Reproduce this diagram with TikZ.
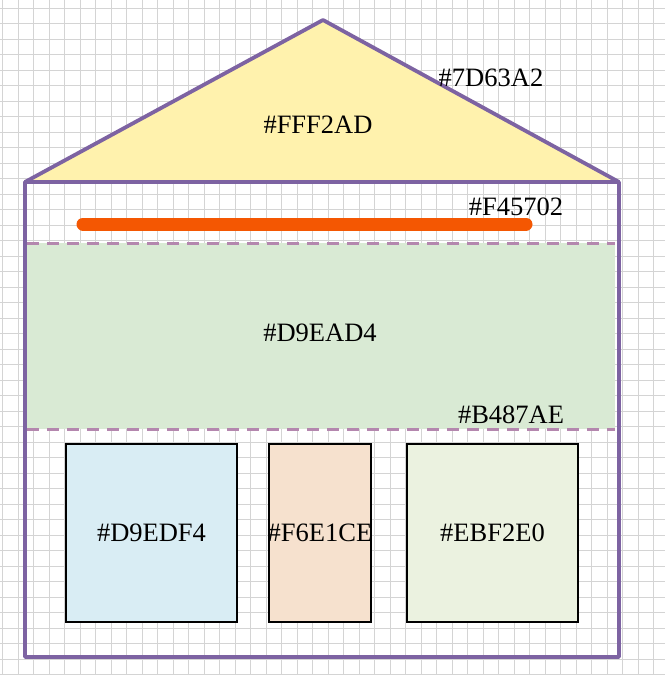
\documentclass[tikz,border=0pt]{standalone}
\usepackage{fontspec}
\setmainfont{Liberation Serif}
\begin{document}
\begin{tikzpicture}[x=1pt,y=-1pt,
  frame/.style={draw=c7D63A2,line width=3.8pt,line join=round},
  band/.style={draw=cB487AE,line width=3pt,dash pattern=on 12pt off 8pt},
  boxst/.style={draw=black,line width=1.5pt,minimum height=178pt,anchor=north west,inner sep=0pt,outer sep=0pt},
  lbl/.style={font=\fontsize{26.5}{28}\selectfont,inner sep=0pt}]
\definecolor{c7D63A2}{HTML}{7D63A2}
\definecolor{cFFF2AD}{HTML}{FFF2AD}
\definecolor{cF45702}{HTML}{F45702}
\definecolor{cD9EAD4}{HTML}{D9EAD4}
\definecolor{cB487AE}{HTML}{B487AE}
\definecolor{cD9EDF4}{HTML}{D9EDF4}
\definecolor{cF6E1CE}{HTML}{F6E1CE}
\definecolor{cEBF2E0}{HTML}{EBF2E0}
\definecolor{gridc}{HTML}{D4D4D4}
\useasboundingbox (0,0) rectangle (665,675);
\fill[white] (0,0) rectangle (665,675);
% grid
\foreach \i in {0,...,43} {\draw[gridc,line width=1pt] (2.7+\i*15.5,0) -- (2.7+\i*15.5,675);}
\foreach \j in {0,...,43} {\draw[gridc,line width=1pt] (0,8.3+\j*15.5) -- (665,8.3+\j*15.5);}
% roof
\coordinate (apex) at (323,20);
\coordinate (bl) at (25,182);
\coordinate (br) at (619,182);
\coordinate (fl) at (25,657);
\coordinate (fr) at (619,657);
\fill[cFFF2AD] (apex) -- (br) -- (bl) -- cycle;
% green band
\fill[cD9EAD4] (27,243) rectangle (615,429);
\coordinate (d1a) at (27,243); \coordinate (d1b) at (615,243);
\coordinate (d2a) at (27,429); \coordinate (d2b) at (615,429);
\draw[band] (d1a) -- (d1b);
\draw[band] (d2a) -- (d2b);
% orange bar
\coordinate (oa) at (83,224); \coordinate (ob) at (526,224);
\draw[cF45702,line width=13pt,line cap=round] (oa) -- (ob);
% frame
\draw[frame] (bl) -- (apex) -- (br);
\draw[frame] (bl) -- (br) -- (fr) -- (fl) -- cycle;
% boxes
\node[boxst,fill=cD9EDF4,minimum width=171pt] (b1) at (66,444) {};
\node[boxst,fill=cF6E1CE,minimum width=102pt] (b2) at (269,444) {};
\node[boxst,fill=cEBF2E0,minimum width=171pt] (b3) at (407,444) {};
% labels
\node[lbl] (t1) at (491,78) {\#7D63A2};
\node[lbl] (t2) at (318,125) {\#FFF2AD};
\node[lbl] (t3) at (516,207) {\#F45702};
\node[lbl] (t4) at (320,333) {\#D9EAD4};
\node[lbl] (t5) at (511,415) {\#B487AE};
\node[lbl] at (b1.center) {\#D9EDF4};
\node[lbl] at (b2.center) {\#F6E1CE};
\node[lbl] at (b3.center) {\#EBF2E0};
\end{tikzpicture}
\end{document}
